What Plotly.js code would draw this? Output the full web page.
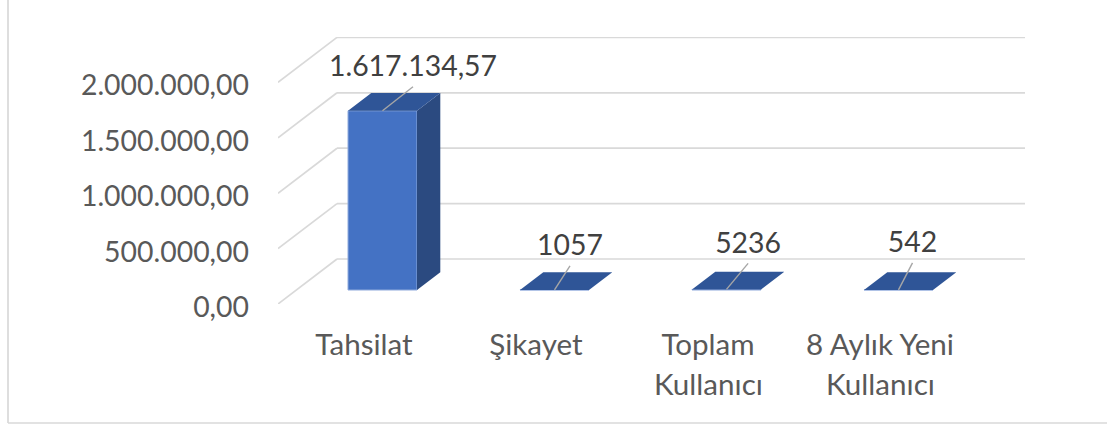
<!DOCTYPE html>
<html>
<head>
<meta charset="utf-8">
<script src="https://cdn.plot.ly/plotly-3.0.1.min.js"></script>
<style>html,body{margin:0;padding:0;background:#fff}#chart{width:1107px;height:425px}</style>
</head>
<body>
<div id="chart"></div>
<script>
// ---- data ----
var categories = ["Tahsilat", "Şikayet", "Toplam", "8 Aylık Yeni"];
var categoriesLine2 = ["", "", "Kullanıcı", "Kullanıcı"];
var values = [1617134.57, 1057, 5236, 542];
var valueLabels = ["1.617.134,57", "1057", "5236", "542"];
var yTicks = [0, 500000, 1000000, 1500000, 2000000];

// ---- geometry (pixels) ----
var L = 278, R = 1025, T = 37, B = 304, W = 1107, H = 425;
var catPx = 172, pxPerMillion = 110.8;
var wallDx = 59, wallDy = 45;          // depth of the floor
var frontDx = 18.5, frontDy = 14;      // bar front from the floor's front edge
var depthDx = 23.3, depthDy = 17.7;    // bar depth
var barPx = 69;
var labelDx = [30.5, 15.5, 21.6, 14];
var labelDy = [-42, -42, -44, -45];
var leaderGap = 18;
var ux = 1 / catPx, uy = 1e6 / pxPerMillion;

var fontFam = "Lato, Carlito, sans-serif", fontSize = 28.4, catFontSize = 29.6;

var baseV = frontDy * uy;
var cx = values.map(function (v, i) { return i + frontDx * ux; });
var half = barPx * ux / 2;

var front = {
  type: "bar", x: cx, y: values, base: values.map(function () { return baseV; }),
  width: values.map(function () { return barPx * ux; }),
  marker: { color: "#4472C4", line: { color: "#8FAADC", width: 1 } },
  hoverinfo: "skip", showlegend: false
};

var topX = [], topY = [], sideX = [], sideY = [];
values.forEach(function (v, i) {
  var xl = cx[i] - half, xr = cx[i] + half, y = baseV + v;
  var dx = depthDx * ux, dy = depthDy * uy;
  topX.push(xl, xr, xr + dx, xl + dx, xl, null);
  topY.push(y, y, y + dy, y + dy, y, null);
  sideX.push(xr, xr + dx, xr + dx, xr, xr, null);
  sideY.push(baseV, baseV + dy, y + dy, y, baseV, null);
});
function face(x, y, color) {
  return { type: "scatter", mode: "lines", x: x, y: y, fill: "toself", fillcolor: color,
    line: { width: 0, color: color }, hoverinfo: "skip", showlegend: false, cliponaxis: false };
}
var side = face(sideX, sideY, "#2B4A80");
var topFace = face(topX, topY, "#2F5597");

var leadX = [], leadY = [], textX = [], textY = [];
values.forEach(function (v, i) {
  var y = baseV + v;
  textX.push(cx[i] + labelDx[i] * ux);
  textY.push(y - labelDy[i] * uy);
  leadX.push(cx[i], cx[i] + labelDx[i] * ux, null);
  leadY.push(y, y - (labelDy[i] + leaderGap) * uy, null);
});
var leaders = { type: "scatter", mode: "lines", x: leadX, y: leadY,
  line: { color: "#A6A6A6", width: 1.4 }, hoverinfo: "skip", showlegend: false, cliponaxis: false };
var labels = { type: "scatter", mode: "text", x: textX, y: textY, text: valueLabels,
  textposition: "middle center", textfont: { family: fontFam, size: fontSize, color: "#404040" },
  hoverinfo: "skip", showlegend: false, cliponaxis: false };

var xMax = -0.5 + (R - L) / catPx, yMax = (B - T) / pxPerMillion * 1e6;
var gridStyle = { color: "#D9D9D9", width: 1.7 };
var shapes = [];
yTicks.forEach(function (t) {
  var wy = t + wallDy * uy, wx = -0.5 + wallDx * ux;
  shapes.push({ type: "line", layer: "below", xref: "x", yref: "y", x0: -0.5, y0: t, x1: wx, y1: wy, line: gridStyle });
  shapes.push({ type: "line", layer: "below", xref: "x", yref: "y", x0: wx, y0: wy, x1: xMax, y1: wy, line: gridStyle });
});
// chart frame
var fx = (8 - L) / (R - L), fy = (B - 423) / (B - T);
shapes.push({ type: "line", xref: "paper", yref: "paper", x0: fx, x1: fx, y0: fy, y1: (B - 0) / (B - T), line: gridStyle });
shapes.push({ type: "line", xref: "paper", yref: "paper", x0: fx, x1: (W - L) / (R - L), y0: fy, y1: fy, line: gridStyle });

var annotations = [];
categoriesLine2.forEach(function (s, i) {
  if (!s) return;
  annotations.push({ xref: "x", yref: "paper", x: i, y: (B - 383) / (B - T), text: s, showarrow: false,
    xanchor: "center", yanchor: "middle", font: { family: fontFam, size: catFontSize, color: "#595959" } });
});

var layout = {
  width: W, height: H,
  margin: { l: L, r: W - R, t: T, b: H - B, pad: 0 },
  paper_bgcolor: "#fff", plot_bgcolor: "rgba(0,0,0,0)",
  separators: ",.",
  showlegend: false, barmode: "overlay",
  font: { family: fontFam, size: fontSize, color: "#595959" },
  xaxis: { type: "linear", range: [-0.5, xMax], tickmode: "array", tickvals: [0, 1, 2, 3], ticktext: categories,
    showgrid: false, zeroline: false, showline: false, ticks: "", ticklabelstandoff: 20,
    tickfont: { family: fontFam, size: catFontSize, color: "#595959" }, tickangle: 0 },
  yaxis: { type: "linear", range: [0, yMax], tickmode: "array", tickvals: yTicks, tickformat: ",.2f",
    showgrid: false, zeroline: false, showline: false, ticks: "", ticklabelstandoff: 28, ticklabelshift: 3,
    tickfont: { family: fontFam, size: fontSize, color: "#595959" } },
  shapes: shapes, annotations: annotations
};
Plotly.newPlot("chart", [front, side, topFace, leaders, labels], layout, { displayModeBar: false, staticPlot: true });
</script>
</body>
</html>
